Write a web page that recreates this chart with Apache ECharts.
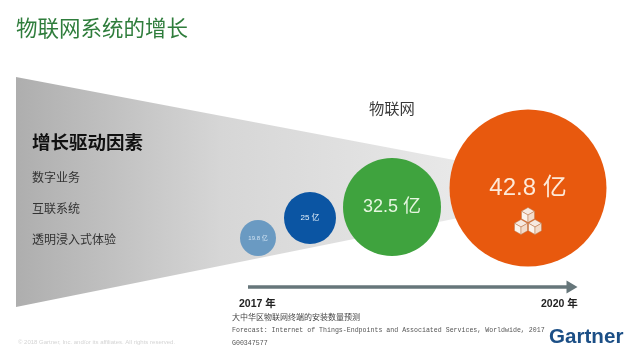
<!DOCTYPE html>
<html><head><meta charset="utf-8">
<style>html,body{margin:0;padding:0;background:#fff}#c{width:640px;height:363px}</style>
<script src="https://cdn.jsdelivr.net/npm/echarts@6/dist/echarts.min.js"></script>
</head><body><div id="c"></div>
<script>
const chartTitle = '物联网系统的增长';
const groupLabel = '物联网';
const driversTitle = '增长驱动因素';
const drivers = ['数字业务', '互联系统', '透明浸入式体验'];
const bubbleValues = [19.8, 25, 32.5, 42.8];
const yearLabels = ['2017 年', '2020 年'];
const notes = ['大中华区物联网终端的安装数量预测',
  'Forecast: Internet of Things-Endpoints and Associated Services, Worldwide, 2017',
  'G00347577'];
const unit = ' 亿';

// layout, separate from the values
const centres = [[258, 238], [310, 218], [392, 207], [528, 188]];
const diameters = [36, 52, 98, 157];
const bubbleColors = ['#6a9ac2', '#0b55a3', '#3fa33e', '#e8590e'];
const fontSizes = [6, 8, 18, 24];
const labelColors = ['#cfe2f2', '#e4f0fb', '#e6f6e0', '#fde9d8'];
const funnel = [[16, 77], [528, 174], [528, 204], [16, 307]];
const arrowLine = [[248, 287], [572, 287]];
const CJK = '"Noto Sans CJK SC","Noto Sans",sans-serif';
const LATIN = '"Liberation Sans",' + CJK;

function text(x, y, s, size, color, extra) {
  return {type: 'text', x, y, silent: true, z: 20, style: Object.assign({
    text: s, fontSize: size, fill: color, fontFamily: CJK, verticalAlign: 'middle'
  }, extra || {})};
}
function cube(cx, cy, r) {
  const h = r * 0.87;
  const face = (pts, fill) => ({type: 'polygon', z: 20, silent: true,
    shape: {points: pts}, style: {fill, stroke: '#b8794f', lineWidth: 0.5}});
  return [
    face([[cx, cy - r], [cx + h, cy - r / 2], [cx, cy], [cx - h, cy - r / 2]], '#f6e9e0'),
    face([[cx - h, cy - r / 2], [cx, cy], [cx, cy + r], [cx - h, cy + r / 2]], '#fbf3ec'),
    face([[cx + h, cy - r / 2], [cx, cy], [cx, cy + r], [cx + h, cy + r / 2]], '#f3dccb')
  ];
}

const chart = echarts.init(document.getElementById('c'), null, {renderer: 'canvas'});
chart.setOption({
  animation: false,
  backgroundColor: '#fff',
  grid: {left: 0, right: 0, top: 0, bottom: 0},
  xAxis: {type: 'value', min: 0, max: 640, show: false},
  yAxis: {type: 'value', min: 0, max: 363, inverse: true, show: false},
  series: [
    {
      type: 'custom', silent: true, z: 1, data: [0], clip: false,
      renderItem: (p, api) => ({
        type: 'polygon',
        shape: {points: funnel.map(pt => api.coord(pt))},
        style: {fill: new echarts.graphic.LinearGradient(0, 0, 1, 0, [
          {offset: 0, color: '#aeaeae'}, {offset: 0.4, color: '#d6d6d6'}, {offset: 1, color: '#eeeeee'}
        ])}
      })
    },
    {
      type: 'scatter', z: 5, silent: true,
      data: bubbleValues.map((v, i) => ({
        value: [centres[i][0], centres[i][1], v],
        label: {fontSize: fontSizes[i], color: labelColors[i]}
      })),
      symbol: 'circle',
      symbolSize: (v, p) => diameters[p.dataIndex],
      itemStyle: {opacity: 1, color: p => bubbleColors[p.dataIndex]},
      label: {
        show: true, position: 'inside', fontFamily: LATIN,
        formatter: p => p.value[2] + unit
      },
      encode: {x: 0, y: 1}
    },
    {
      type: 'line', z: 4, silent: true, symbol: 'none', data: [],
      markLine: {
        silent: true, symbol: ['none', 'triangle'], symbolSize: [13, 11], animation: false,
        label: {show: false},
        lineStyle: {color: '#66767a', width: 3.5, type: 'solid'},
        data: [[{coord: arrowLine[0]}, {coord: arrowLine[1]}]]
      }
    }
  ],
  graphic: [
    text(16, 28, chartTitle, 21.5, '#2f7d3c'),
    text(369, 108, groupLabel, 15.3, '#3a3a3a'),
    text(32, 142, driversTitle, 18.5, '#111', {fontWeight: 'bold'}),
    text(32, 177, drivers[0], 12, '#333'),
    text(32, 208, drivers[1], 12, '#333'),
    text(32, 239, drivers[2], 12, '#333'),
    text(239, 304, yearLabels[0], 10.5, '#222', {fontWeight: 'bold', fontFamily: LATIN}),
    text(541, 304, yearLabels[1], 10.5, '#222', {fontWeight: 'bold', fontFamily: LATIN}),
    text(232, 317, notes[0], 8, '#444'),
    text(232, 330, notes[1], 6.6, '#555', {fontFamily: '"Liberation Mono",monospace'}),
    text(232, 343, notes[2], 6.6, '#555', {fontFamily: '"Liberation Mono",monospace'}),
    text(549, 337, 'Gartner', 20.6, '#1c4f86', {fontWeight: 'bold', fontFamily: 'Liberation Sans,sans-serif'}),
    text(18, 342, '© 2018 Gartner, Inc. and/or its affiliates. All rights reserved.', 6, '#d4d4d4', {fontFamily: 'Liberation Sans,sans-serif'})
  ].concat(cube(528, 215, 7.5), cube(521, 227, 7.5), cube(535, 227, 7.5))
});
</script></body></html>
